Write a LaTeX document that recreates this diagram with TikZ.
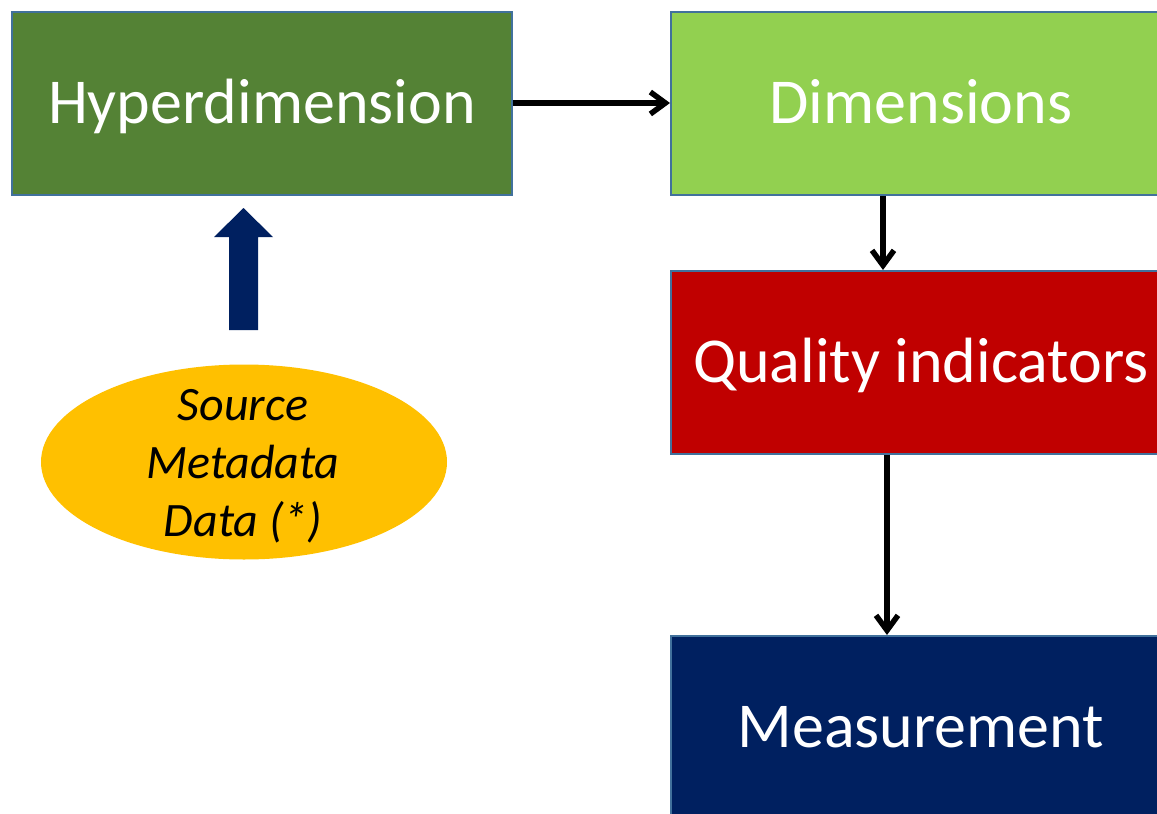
\documentclass[tikz,border=0pt]{standalone}
\usepackage{fontspec}
\setmainfont{Carlito}
\usetikzlibrary{arrows.meta,shapes.geometric}
\definecolor{hdgreen}{HTML}{548235}
\definecolor{ltgreen}{HTML}{92D050}
\definecolor{qired}{HTML}{C00000}
\definecolor{navy}{HTML}{002060}
\definecolor{amber}{HTML}{FFC000}
\definecolor{edgeblue}{HTML}{41719C}
\tikzset{
  box/.style={draw=edgeblue, line width=1.8pt, minimum width=500pt, minimum height=183pt,
    inner sep=0pt, text=white, font=\fontsize{64}{76}\selectfont, anchor=north west,
    text height=41pt, text depth=0pt},
  flow/.style={line width=5.5pt, draw=black, -{Straight Barb[length=15pt,width=22pt,line width=5.5pt]}},
}
\begin{document}
\begin{tikzpicture}[x=1pt,y=-1pt]
\useasboundingbox (0,0) rectangle (1157,814);
\clip (0,0) rectangle (1157,814);
\node[box, fill=hdgreen] (hd) at (11,11) {Hyperdimension};
\node[box, fill=ltgreen] (dim) at (670,11) {Dimensions};
\node[box, fill=qired] (qi) at (670,270) {Quality indicators};
\node[box, fill=navy] (ms) at (670,635) {Measurement};
\node[ellipse, fill=amber, minimum width=406pt, minimum height=195pt, inner sep=0pt] (src) at (244,462) {};
\node[align=center, inner sep=0pt, font=\fontsize{48}{58}\selectfont\itshape] (srctext) at (243,466)
  {Source\\Metadata\\Data (*)};
\fill[navy] (229,330) -- (229,237) -- (214,237) -- (243.5,208) -- (273,237) -- (258,237) -- (258,330) -- cycle;
\draw[flow] (hd.east |- 0,103) -- (dim.west |- 0,103);
\draw[flow] (dim.south -| 883,0) -- (qi.north -| 883,0);
\draw[flow] (qi.south -| 887,0) -- (ms.north -| 887,0);
\end{tikzpicture}
\end{document}
